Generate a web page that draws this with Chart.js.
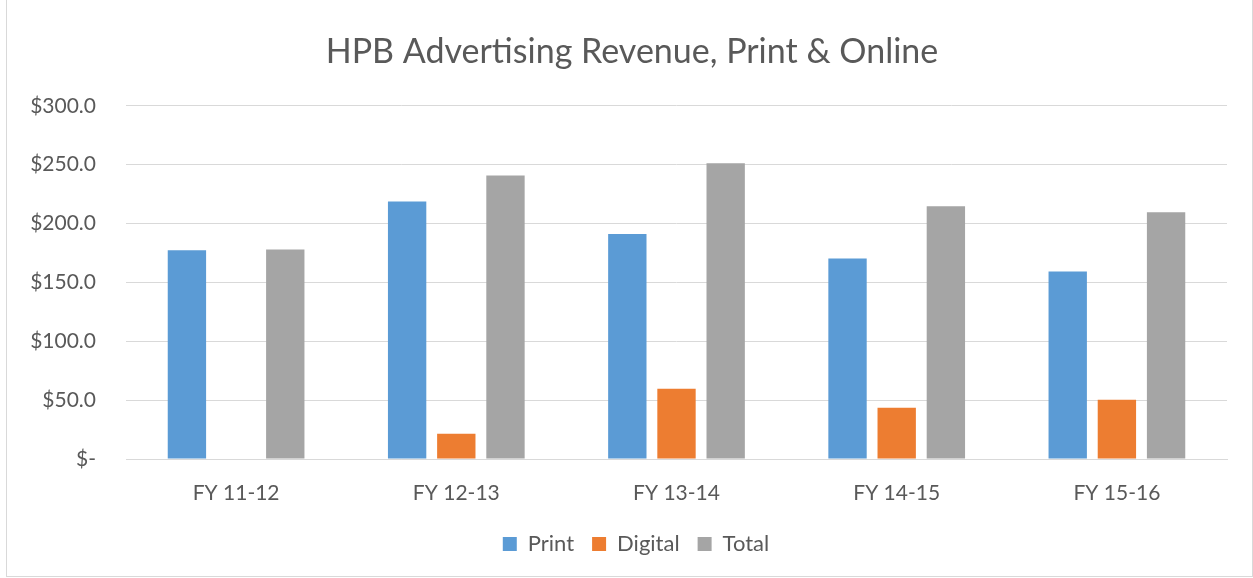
<!DOCTYPE html>
<html>
<head>
<meta charset="utf-8">
<script src="https://cdn.jsdelivr.net/npm/chart.js@4.4.1/dist/chart.umd.min.js"></script>
<style>
  html, body { margin: 0; padding: 0; background: #fff; }
  #wrap { position: absolute; left: 6px; top: 0; width: 1245px; height: 576px; border: 1px solid #D9D9D9; border-top: none; }
  #revenueChart { position: absolute; left: 0; top: 0; }
</style>
</head>
<body>
<div id="wrap"><canvas id="revenueChart" width="1245" height="576"></canvas></div>
<script>
const categories = ["FY 11-12", "FY 12-13", "FY 13-14", "FY 14-15", "FY 15-16"];
const printValues = [177.4, 218.7, 191.2, 170.3, 159.3];
const digitalValues = [0, 21.4, 59.6, 43.5, 50.3];
const totalValues = [178.0, 240.7, 251.1, 214.7, 209.6];
const yTicks = [0, 50, 100, 150, 200, 250, 300];

const textColor = "#595959";
const font = "Lato, 'Open Sans', sans-serif";

function dollar(v) {
  return v === 0 ? "$-" : "$" + v.toFixed(1);
}

// title and legend sit centred on the whole frame, not on the padded box
const centerShift = {
  id: "centerShift",
  afterLayout(chart) {
    const t = chart.titleBlock;
    if (t) { t.left += 10; t.right += 10; }
    const l = chart.legend;
    if (l) { l.left += 14; l.right += 14; }
  }
};

function initRevenueChart() {
  const ctx = document.getElementById("revenueChart");
  if (!ctx || typeof Chart === "undefined") return;

  const bar = { categoryPercentage: 0.67, barPercentage: 0.78, borderWidth: 0 };

  new Chart(ctx, {
    type: "bar",
    data: {
      labels: categories,
      datasets: [
        { label: "Print", data: printValues, backgroundColor: "#5B9BD5", ...bar },
        { label: "Digital", data: digitalValues, backgroundColor: "#ED7D31", ...bar },
        { label: "Total", data: totalValues, backgroundColor: "#A5A5A5", ...bar }
      ]
    },
    plugins: [centerShift],
    options: {
      responsive: false,
      animation: false,
      layout: { padding: { left: 10, right: 25, top: 32, bottom: 11 } },
      plugins: {
        title: {
          display: true,
          text: "HPB Advertising Revenue, Print & Online",
          color: textColor,
          font: { family: font, size: 34, weight: "normal" },
          padding: { top: 0, bottom: 33 }
        },
        legend: {
          position: "bottom",
          labels: {
            color: textColor,
            font: { family: font, size: 22 },
            boxWidth: 14,
            boxHeight: 14,
            padding: 18
          }
        },
        tooltip: { enabled: false }
      },
      scales: {
        x: {
          afterFit: (axis) => { axis.height = 56; },
          grid: { display: false, drawTicks: false },
          border: { color: "#D9D9D9", width: 1 },
          ticks: { color: textColor, font: { family: font, size: 21 }, padding: 22 }
        },
        y: {
          min: 0,
          max: 300,
          afterBuildTicks: (axis) => { axis.ticks = yTicks.map((v) => ({ value: v })); },
          afterFit: (axis) => { axis.width = 109; },
          grid: { color: "#D9D9D9", drawTicks: false },
          border: { display: false },
          ticks: { color: textColor, font: { family: font, size: 21 }, padding: 30, callback: (v) => dollar(v) }
        }
      }
    }
  });
}

document.addEventListener("DOMContentLoaded", initRevenueChart);
</script>
</body>
</html>
